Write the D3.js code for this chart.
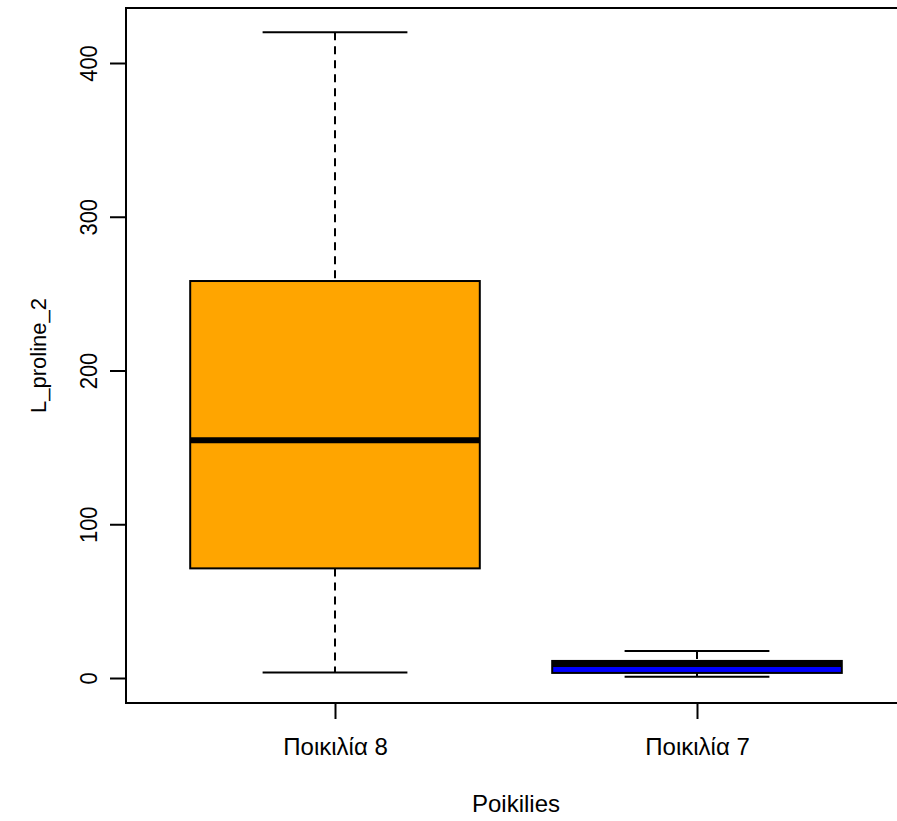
<!DOCTYPE html>
<html>
<head>
<meta charset="utf-8">
<script src="https://cdn.jsdelivr.net/npm/d3@7"></script>
<style>
  html, body { margin: 0; padding: 0; background: #fff; }
  svg { display: block; }
  text { font-family: "Liberation Sans", Arial, sans-serif; fill: #000; }
</style>
</head>
<body>
<div id="chart"></div>
<script>
// ---- data ----
const categories = ["Ποικιλία 8", "Ποικιλία 7"];
const whiskerLow  = [3.5, 0.85];
const q1          = [71.3, 3.3];
const median      = [154.6, 9.1];
const q3          = [258.2, 11.1];
const whiskerHigh = [420, 17.6];
const fills       = ["#FFA500", "#0000FF"];
const yTicks      = [0, 100, 200, 300, 400];
const xLabel = "Poikilies";
const yLabel = "L_proline_2";

// ---- layout ----
const W = 897, H = 821;
const frame = { left: 126, right: 907, top: 8, bottom: 703 };

const svg = d3.select("#chart").append("svg")
  .attr("width", W).attr("height", H);

const x = d3.scaleLinear().domain([1, 2]).range([335, 697]);
const y = d3.scaleLinear().domain([0, 400]).range([678, 63]);
const boxwex = 0.8;
const halfBox = (x(2) - x(1)) * boxwex / 2;
const halfCap = halfBox / 2;

const data = categories.map((c, i) => ({
  c, i: i + 1,
  lo: whiskerLow[i], q1: q1[i], med: median[i], q3: q3[i], hi: whiskerHigh[i], fill: fills[i]
}));

const g = svg.append("g");

data.forEach(d => {
  const cx = x(d.i);
  g.append("line").attr("x1", cx).attr("x2", cx)
    .attr("y1", y(d.hi)).attr("y2", y(d.q3))
    .attr("stroke", "#000").attr("stroke-width", 2).attr("stroke-dasharray", "8,6");
  g.append("line").attr("x1", cx).attr("x2", cx)
    .attr("y1", y(d.q1)).attr("y2", y(d.lo))
    .attr("stroke", "#000").attr("stroke-width", 2).attr("stroke-dasharray", "8,6");
  [d.hi, d.lo].forEach(v => {
    g.append("line").attr("x1", cx - halfCap).attr("x2", cx + halfCap)
      .attr("y1", y(v)).attr("y2", y(v))
      .attr("stroke", "#000").attr("stroke-width", 2);
  });
  g.append("rect")
    .attr("x", cx - halfBox).attr("width", 2 * halfBox)
    .attr("y", y(d.q3)).attr("height", y(d.q1) - y(d.q3))
    .attr("fill", d.fill).attr("stroke", "#000").attr("stroke-width", 2);
  g.append("line").attr("x1", cx - halfBox).attr("x2", cx + halfBox)
    .attr("y1", y(d.med)).attr("y2", y(d.med))
    .attr("stroke", "#000").attr("stroke-width", 6);
});

svg.append("rect")
  .attr("x", frame.left).attr("y", frame.top)
  .attr("width", frame.right - frame.left).attr("height", frame.bottom - frame.top)
  .attr("fill", "none").attr("stroke", "#000").attr("stroke-width", 2);

const yAxis = svg.append("g")
  .attr("transform", `translate(${frame.left},0)`)
  .call(d3.axisLeft(y).tickValues(yTicks).tickSize(16).tickPadding(0).tickFormat(d3.format("d")));
yAxis.select(".domain").remove();
yAxis.selectAll(".tick line").attr("stroke", "#000").attr("stroke-width", 2);
yAxis.selectAll(".tick text")
  .attr("x", null).attr("dy", null)
  .attr("transform", "translate(-29,0) rotate(-90) scale(1,1.1)")
  .attr("text-anchor", "middle")
  .style("font-size", "22px");

const xAxis = svg.append("g")
  .attr("transform", `translate(0,${frame.bottom})`)
  .call(d3.axisBottom(x).tickValues([1, 2]).tickSize(16).tickPadding(0)
    .tickFormat(v => categories[v - 1]));
xAxis.select(".domain").remove();
xAxis.selectAll(".tick line").attr("stroke", "#000").attr("stroke-width", 2);
xAxis.selectAll(".tick text")
  .attr("y", 52).attr("dy", null)
  .style("font-size", "24px");

svg.append("text")
  .attr("x", (x(1) + x(2)) / 2).attr("y", 812)
  .attr("text-anchor", "middle")
  .style("font-size", "24px")
  .text(xLabel);

svg.append("text")
  .attr("transform", `translate(46,${(frame.top + frame.bottom) / 2}) rotate(-90)`)
  .attr("text-anchor", "middle")
  .style("font-size", "22px")
  .text(yLabel);
</script>
</body>
</html>
